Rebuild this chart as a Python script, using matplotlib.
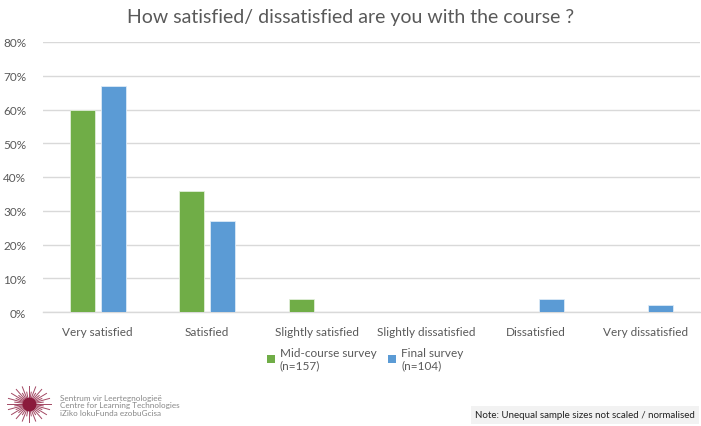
import matplotlib
matplotlib.use("Agg")
import matplotlib.pyplot as plt
from matplotlib.patches import Patch
import numpy as np

categories = ["Very satisfied", "Satisfied", "Slightly satisfied",
              "Slightly dissatisfied", "Dissatisfied", "Very dissatisfied"]
mid_course = [0.60, 0.36, 0.04, 0.0, 0.0, 0.0]
final = [0.67, 0.27, 0.0, 0.0, 0.04, 0.02]
yticks = [0, 0.1, 0.2, 0.3, 0.4, 0.5, 0.6, 0.7, 0.8]
ytick_labels = ["0%", "10%", "20%", "30%", "40%", "50%", "60%", "70%", "80%"]
series_labels = ["Mid-course survey\n(n=157)", "Final survey\n(n=104)"]
title = "How satisfied/ dissatisfied are you with the course ?"

green = "#70AD47"
blue = "#5B9BD5"
txt = "#595959"

plt.rcParams['font.family'] = ['Lato', 'DejaVu Sans']

fig = plt.figure(figsize=(7.01, 4.27), dpi=100)
ax = fig.add_axes([43/701, 1-313/427, 657/701, 270/427])

x = np.arange(len(categories))
w = 0.227
off = 0.141
ax.bar(x - off, mid_course, w, color=green, edgecolor="#e2efda", linewidth=0.6, zorder=3)
ax.bar(x + off, final, w, color=blue, edgecolor="#ddebf7", linewidth=0.6, zorder=3)

ax.set_xlim(-0.5, len(categories) - 0.5)
ax.set_ylim(0, 0.8)
ax.set_yticks(yticks)
ax.set_yticklabels(ytick_labels)
ax.set_xticks(x)
ax.set_xticklabels(categories)
ax.tick_params(axis='both', length=0, labelsize=8.5, colors=txt)
ax.tick_params(axis='x', pad=10)
ax.tick_params(axis='y', pad=12)
ax.grid(axis='y', color="#d9d9d9", linewidth=1, zorder=0)
for s in ["top", "right", "left"]:
    ax.spines[s].set_visible(False)
ax.spines["bottom"].set_color("#d9d9d9")
ax.spines["bottom"].set_linewidth(1)

fig.text(0.5, 1-18/427, title, ha="center", va="center", fontsize=14, color=txt)

handles = [Patch(facecolor=green), Patch(facecolor=blue)]
fig.legend(handles, series_labels, loc="upper left", ncol=2,
           bbox_to_anchor=(262/701, 1-343/427), frameon=False,
           fontsize=8.5, labelcolor=txt, handlelength=0.7, handleheight=0.7,
           handletextpad=0.4, columnspacing=1.0, borderaxespad=0)

fig.text(695/701, 1-416/427, "Note: Unequal sample sizes not scaled / normalised",
         ha="right", va="center", fontsize=7, color="#222222",
         bbox=dict(facecolor="#f2f2f2", edgecolor="none", boxstyle="square,pad=0.45"))

# logo text
fig.text(60/701, 1-406/427, "Sentrum vir Leertegnologieë\nCentre for Learning Technologies\niZiko lokuFunda ezobuGcisa",
         ha="left", va="center", fontsize=5.9, color="#888888", linespacing=1.05)
# simple starburst logo
lax = fig.add_axes([5/701, 1-425/427, 48/701, 40/427])
lax.set_xlim(-1, 1); lax.set_ylim(-1, 1); lax.axis("off")
ang = np.linspace(0, 2*np.pi, 40, endpoint=False)
for i, a in enumerate(ang):
    r = 0.9 if i % 2 == 0 else 0.6
    lax.plot([0, r*np.cos(a)], [0, r*np.sin(a)], color="#8b1a3c", lw=0.7, alpha=0.8)
lax.scatter([0], [0], s=80, color="#8b1a3c")

fig.savefig("out.png", dpi=100)
